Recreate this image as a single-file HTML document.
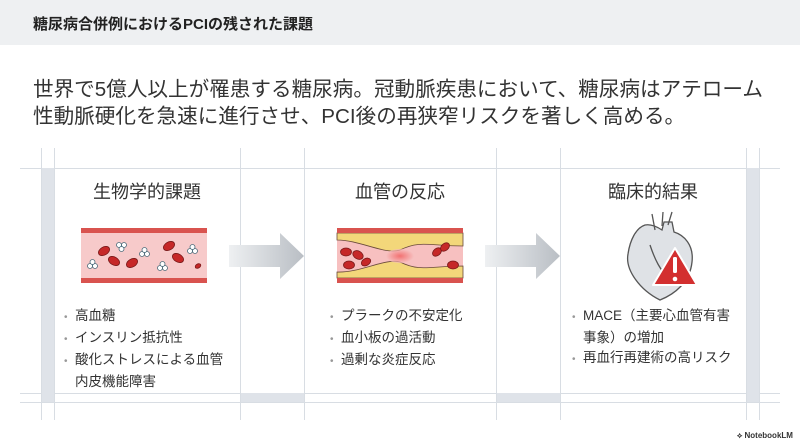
<!DOCTYPE html>
<html><head><meta charset="utf-8"><style>
body{margin:0;width:800px;height:447px;background:#fff;position:relative;overflow:hidden;font-family:"Liberation Sans","Noto Sans CJK JP",sans-serif;color:#333}
.a{position:absolute}
.vl{position:absolute;width:1px;background:#d8dde3;top:148px;height:272px}
.hl{position:absolute;height:1px;background:#d8dde3;left:20px;width:760px}
.h{font-size:18px;text-align:center;color:#333}
ul{margin:0;padding:0;list-style:none;font-size:13.5px;line-height:20px;color:#333}
li{padding-left:11px;text-indent:-11px}
li::before{content:"•";color:#999;display:inline-block;width:11px;text-indent:0;font-size:10px}
</style></head><body>
<div class="a" style="left:0;top:0;width:800px;height:45px;background:#eef0f2"></div>
<div class="a" style="left:33px;top:13px;font-size:15px;font-weight:bold;color:#222">糖尿病合併例におけるPCIの残された課題</div>
<div class="a" style="left:33px;top:76px;font-size:20.6px;line-height:27px;color:#333;width:760px">世界で5億人以上が罹患する糖尿病。冠動脈疾患において、糖尿病はアテローム<br>性動脈硬化を急速に進行させ、PCI後の再狭窄リスクを著しく高める。</div>

<div class="hl" style="top:168px"></div>
<div class="hl" style="top:393px"></div>
<div class="hl" style="top:402px"></div>
<div class="a" style="left:41px;top:168px;width:13px;height:234px;background:#dfe3e9"></div>
<div class="a" style="left:746px;top:168px;width:13px;height:234px;background:#dfe3e9"></div>
<div class="a" style="left:240px;top:393px;width:64px;height:9px;background:#dfe3e9"></div>
<div class="a" style="left:496px;top:393px;width:64px;height:9px;background:#dfe3e9"></div>
<div class="vl" style="left:41px"></div><div class="vl" style="left:54px"></div>
<div class="vl" style="left:240px"></div><div class="vl" style="left:304px"></div>
<div class="vl" style="left:496px"></div><div class="vl" style="left:560px"></div>
<div class="vl" style="left:746px"></div><div class="vl" style="left:759px"></div>

<div class="a h" style="left:54px;width:186px;top:178px">生物学的課題</div>
<div class="a h" style="left:304px;width:192px;top:178px">血管の反応</div>
<div class="a h" style="left:560px;width:186px;top:178px">臨床的結果</div>

<svg class="a" style="left:0;top:0" width="800" height="447">
<defs><linearGradient id="g" x1="0" x2="1"><stop offset="0" stop-color="#eef0f2"/><stop offset="1" stop-color="#b9bec4"/></linearGradient>
<radialGradient id="r"><stop offset="0" stop-color="#f05050"/><stop offset="1" stop-color="#f6c0c0"/></radialGradient></defs>
<polygon points="229,245 280,245 280,233 304,256 280,279 280,267 229,267" fill="url(#g)"/>
<polygon points="485,245 536,245 536,233 560,256 536,279 536,267 485,267" fill="url(#g)"/>
<rect x="81" y="229" width="126" height="54" fill="#f7caca"/>
<rect x="81" y="228" width="126" height="5" fill="#d9534f"/>
<rect x="81" y="278" width="126" height="5" fill="#d9534f"/>
<g fill="#c62828" stroke="#7a1a1a" stroke-width="0.8">
<ellipse cx="104" cy="251" rx="6" ry="4" transform="rotate(-30 104 251)"/>
<ellipse cx="114" cy="261" rx="6" ry="4" transform="rotate(30 114 261)"/>
<ellipse cx="132" cy="263" rx="6" ry="4" transform="rotate(-30 132 263)"/>
<ellipse cx="169" cy="246" rx="6" ry="4" transform="rotate(-30 169 246)"/>
<ellipse cx="178" cy="258" rx="6" ry="4" transform="rotate(30 178 258)"/>
<ellipse cx="198" cy="266" rx="3" ry="2" transform="rotate(-30 198 266)"/></g>
<g fill="#fff" stroke="#4a6b7a" stroke-width="0.8">
<circle cx="90" cy="266" r="2.5"/><circle cx="95" cy="266" r="2.5"/><circle cx="92.5" cy="262" r="2.5"/>
<circle cx="119" cy="245" r="2.5"/><circle cx="124" cy="245" r="2.5"/><circle cx="121.5" cy="249" r="2.5"/>
<circle cx="142" cy="254" r="2.5"/><circle cx="147" cy="254" r="2.5"/><circle cx="144.5" cy="250" r="2.5"/>
<circle cx="160" cy="268" r="2.5"/><circle cx="165" cy="268" r="2.5"/><circle cx="162.5" cy="264" r="2.5"/>
<circle cx="190" cy="251" r="2.5"/><circle cx="195" cy="251" r="2.5"/><circle cx="192.5" cy="247" r="2.5"/></g>
<rect x="337" y="229" width="126" height="54" fill="#f7c0c0"/>
<path d="M337,233 H463 V246 C430,246 420,240 400,250 C385,255 360,240 337,240Z" fill="#f3d77a" stroke="#6a4a3a" stroke-width="0.8"/>
<path d="M337,278 H463 V266 C430,266 420,272 400,262 C385,258 360,273 337,272Z" fill="#f3d77a" stroke="#6a4a3a" stroke-width="0.8"/>
<ellipse cx="400" cy="256" rx="14" ry="7" fill="url(#r)" opacity="0.7"/>
<rect x="337" y="228" width="126" height="5" fill="#d9534f"/>
<rect x="337" y="278" width="126" height="5" fill="#d9534f"/>
<g fill="#c62828" stroke="#7a1a1a" stroke-width="0.8">
<ellipse cx="346" cy="252" rx="5.5" ry="4"/><ellipse cx="358" cy="255" rx="5.5" ry="4" transform="rotate(30 358 255)"/>
<ellipse cx="349" cy="265" rx="5.5" ry="4"/><ellipse cx="366" cy="262" rx="5" ry="3.5" transform="rotate(-30 366 262)"/>
<ellipse cx="437" cy="252" rx="5" ry="3.5" transform="rotate(-40 437 252)"/><ellipse cx="445" cy="247" rx="5" ry="3.5" transform="rotate(-40 445 247)"/>
<ellipse cx="453" cy="265" rx="5.5" ry="4"/></g>
<path d="M645,225 C636,228 630,240 628,254 C625,270 640,290 660,300 C675,294 690,282 692,262 C694,245 684,235 674,232 L672,222 L664,222 L662,230 C656,226 650,224 645,225Z" fill="#dfe2e6" stroke="#555" stroke-width="1.3"/>
<path d="M655,230 L652,214 M662,226 L663,212 M668,225 L672,212 M650,245 C655,260 660,270 670,280" fill="none" stroke="#555" stroke-width="1.3"/>
<polygon points="675,248 653,285 697,285" fill="#d32f2f" stroke="#fff" stroke-width="2" stroke-linejoin="round"/>
<rect x="673" y="257" width="4" height="16" rx="1.5" fill="#fff"/><circle cx="675" cy="279" r="2.3" fill="#fff"/>
</svg>

<ul class="a" style="left:64px;top:306px;width:166px"><li>高血糖</li><li>インスリン抵抗性</li><li>酸化ストレスによる血管内皮機能障害</li></ul>
<ul class="a" style="left:330px;top:306px;width:170px"><li>プラークの不安定化</li><li>血小板の過活動</li><li>過剰な炎症反応</li></ul>
<ul class="a" style="left:572px;top:306px;width:165px"><li>MACE（主要心血管有害事象）の増加</li><li>再血行再建術の高リスク</li></ul>
<div class="a" style="left:737px;top:431px;font-size:8px;color:#333;font-weight:bold">⟡ NotebookLM</div>
</body></html>
